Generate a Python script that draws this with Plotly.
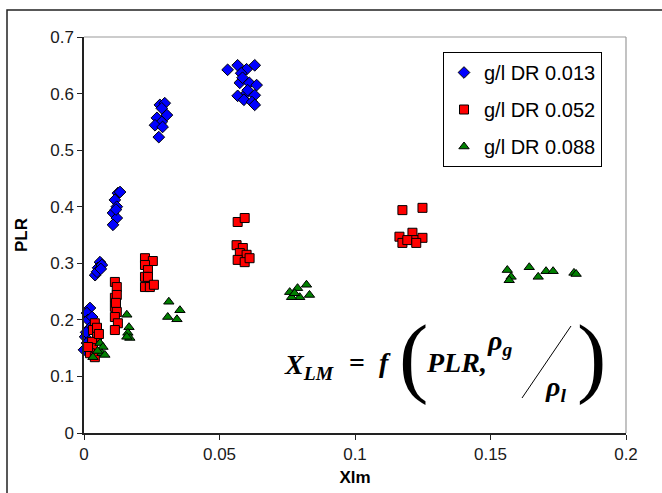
import plotly.graph_objects as go

# PLR vs Xlm for three drag-reducer concentrations
series_names = ["g/l DR 0.013", "g/l DR 0.052", "g/l DR 0.088"]

xlm_dr013 = [0.0022, 0.0011, 0.0015, 0.0030, 0.0004, 0.0011, 0.0000, 0.0020, 0.0008,
             0.0059, 0.0052, 0.0041, 0.0066, 0.0048, 0.0062,
             0.0125, 0.0133, 0.0114, 0.0121, 0.0107, 0.0121, 0.0107, 0.0118,
             0.0280, 0.0298, 0.0287, 0.0306, 0.0269, 0.0287, 0.0262, 0.0290, 0.0276,
             0.0530, 0.0567, 0.0630, 0.0600, 0.0580, 0.0575, 0.0610, 0.0637, 0.0567,
             0.0600, 0.0630, 0.0590, 0.0620, 0.0630, 0.0604, 0.0585]
plr_dr013 = [0.221, 0.212, 0.200, 0.205, 0.170, 0.159, 0.147, 0.185, 0.178,
             0.302, 0.292, 0.279, 0.297, 0.285, 0.290,
             0.424, 0.426, 0.412, 0.400, 0.389, 0.380, 0.368, 0.395,
             0.580, 0.583, 0.574, 0.562, 0.557, 0.550, 0.544, 0.541, 0.523,
             0.642, 0.650, 0.650, 0.643, 0.636, 0.619, 0.619, 0.615, 0.596,
             0.601, 0.597, 0.589, 0.585, 0.580, 0.606, 0.628]

xlm_dr052 = [0.0040, 0.0033, 0.0048, 0.0030, 0.0033, 0.0022, 0.0040, 0.0015, 0.0048, 0.0055,
             0.0114, 0.0121, 0.0114, 0.0121, 0.0114, 0.0121, 0.0114, 0.0125, 0.0114, 0.0118,
             0.0225, 0.0254, 0.0225, 0.0236, 0.0225, 0.0236, 0.0225, 0.0243, 0.0258,
             0.0567, 0.0593, 0.0563, 0.0586, 0.0575, 0.0600, 0.0567, 0.0593, 0.0611,
             0.1175, 0.1249, 0.1164, 0.1175, 0.1212, 0.1219, 0.1249, 0.1193, 0.1226]
plr_dr052 = [0.194, 0.182, 0.170, 0.161, 0.150, 0.141, 0.134, 0.152, 0.186, 0.175,
             0.267, 0.258, 0.239, 0.244, 0.223, 0.214, 0.205, 0.194, 0.182, 0.230,
             0.309, 0.304, 0.297, 0.288, 0.276, 0.276, 0.258, 0.258, 0.262,
             0.373, 0.380, 0.332, 0.327, 0.318, 0.315, 0.306, 0.302, 0.309,
             0.394, 0.398, 0.347, 0.336, 0.354, 0.341, 0.345, 0.341, 0.336]

xlm_dr088 = [0.0059, 0.0070, 0.0066, 0.0033, 0.0077, 0.0050,
             0.0158, 0.0166, 0.0162, 0.0169, 0.0158,
             0.0313, 0.0354, 0.0309, 0.0343,
             0.0759, 0.0788, 0.0821, 0.0832, 0.0796, 0.0766, 0.0777,
             0.1562, 0.1576, 0.1569, 0.1643, 0.1676, 0.1705, 0.1731, 0.1808, 0.1816]
plr_dr088 = [0.159, 0.152, 0.141, 0.134, 0.138, 0.145,
             0.209, 0.187, 0.177, 0.168, 0.170,
             0.232, 0.217, 0.205, 0.201,
             0.249, 0.256, 0.262, 0.244, 0.240, 0.240, 0.247,
             0.288, 0.276, 0.270, 0.293, 0.276, 0.286, 0.286, 0.283, 0.281]

x_ticks = [0, 0.05, 0.1, 0.15, 0.2]
y_ticks = [0, 0.1, 0.2, 0.3, 0.4, 0.5, 0.6, 0.7]

# plot-area geometry in pixels, used to place the equation text
W, H = 662, 493
L, R, T, B = 84, 626, 37, 433


def px(xp):
    return (xp - L) / (R - L)


def py(yp):
    return (B - yp) / (B - T)


fig = go.Figure()
styles = [
    (xlm_dr013, plr_dr013, "diamond", "#0000FF", 9),
    (xlm_dr052, plr_dr052, "square", "#FF0000", 9),
    (xlm_dr088, plr_dr088, "triangle-up", "#008000", 9),
]
for name, (xs, ys, sym, col, sz) in zip(series_names, styles):
    fig.add_trace(go.Scatter(
        x=xs, y=ys, mode="markers", name=name, legendgroup=name, cliponaxis=False,
        marker=dict(symbol=sym, color=col, size=sz,
                    line=dict(color="#000000", width=1)),
    ))

axis_font = dict(family="Liberation Sans, Arial", size=17, color="#1a1a1a")
fig.update_xaxes(
    range=[0, 0.2], tickvals=x_ticks, ticktext=[f"{v:g}" for v in x_ticks],
    showgrid=False, zeroline=False, showline=True, linecolor="#222222", linewidth=1.5,
    ticks="outside", ticklen=5, tickcolor="#222222", tickfont=axis_font,
    title=dict(text="<b>Xlm</b>", font=dict(family="Liberation Sans, Arial", size=17, color="#000"),
               standoff=8),
    automargin=False,
)
fig.update_yaxes(
    range=[0, 0.7], tickvals=y_ticks, ticktext=[f"{v:g}" for v in y_ticks],
    showgrid=False, zeroline=False, showline=True, linecolor="#222222", linewidth=1.5,
    ticks="outside", ticklen=5, tickcolor="#222222", tickfont=axis_font,
    title=dict(text="<b>PLR</b>", font=dict(family="Liberation Sans, Arial", size=17, color="#000"),
               standoff=18),
    automargin=False,
)

shapes = [
    # outer chart frame
    dict(type="rect", xref="paper", yref="paper", x0=px(7), y0=py(520), x1=px(700), y1=py(10),
         line=dict(color="#222222", width=1.5), fillcolor="rgba(0,0,0,0)", layer="below"),
    # light plot-area border on top and right
    dict(type="line", xref="paper", yref="paper", x0=0, y0=1, x1=1, y1=1,
         line=dict(color="#9a9a9a", width=1.2)),
    dict(type="line", xref="paper", yref="paper", x0=1, y0=0, x1=1, y1=1,
         line=dict(color="#9a9a9a", width=1.2)),
    # fraction slash of the density ratio in the equation
    dict(type="line", xref="paper", yref="paper", x0=px(522), y0=py(398), x1=px(571), y1=py(326),
         line=dict(color="#000000", width=1)),
]

serif = "Liberation Serif, Times New Roman, serif"
eq_font = dict(family=serif, size=28, color="#000")
paren_font = dict(family=serif, size=88, color="#000")
annotations = [
    dict(text="<b><i>X<sub>LM</sub></i></b>", x=px(282), y=py(366), xanchor="left", yanchor="middle",
         font=eq_font),
    dict(text="<b>=</b>", x=px(357), y=py(362), xanchor="center", yanchor="middle", font=eq_font),
    dict(text="<b><i>f</i></b>", x=px(385), y=py(362), xanchor="center", yanchor="middle", font=eq_font),
    dict(text="(", x=px(413), y=py(356), xanchor="center", yanchor="middle", font=paren_font),
    dict(text="<b><i>PLR,</i></b>", x=px(424), y=py(362), xanchor="left", yanchor="middle",
         font=eq_font),
    dict(text="<b><i>ρ<sub>g</sub></i></b>", x=px(485), y=py(342), xanchor="left", yanchor="middle",
         font=eq_font),
    dict(text="<b><i>ρ<sub>l</sub></i></b>", x=px(543), y=py(388), xanchor="left", yanchor="middle",
         font=eq_font),
    dict(text=")", x=px(591), y=py(356), xanchor="center", yanchor="middle", font=paren_font),
]
for a in annotations:
    a.update(xref="paper", yref="paper", showarrow=False)

fig.update_layout(
    width=W, height=H, autosize=False,
    margin=dict(l=L, r=W - R, t=T, b=H - B, pad=0),
    paper_bgcolor="white", plot_bgcolor="white",
    showlegend=True,
    legend=dict(x=px(443), y=py(52), xanchor="left", yanchor="top",
                bgcolor="white", bordercolor="#000000", borderwidth=1,
                font=dict(family="Liberation Sans, Arial", size=20, color="#000"),
                tracegroupgap=8, itemwidth=30),
    shapes=shapes, annotations=annotations,
)

fig.write_html("out.html")
